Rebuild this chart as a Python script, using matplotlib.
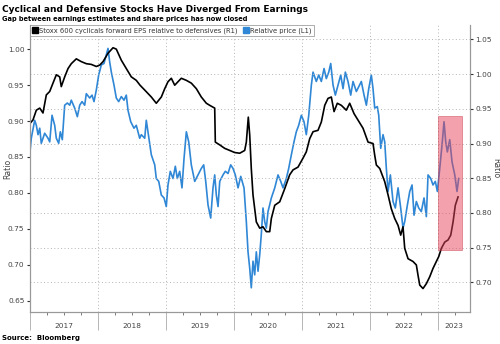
import matplotlib
matplotlib.use("Agg")
import matplotlib.pyplot as plt
from matplotlib.lines import Line2D
from matplotlib.patches import Rectangle
from matplotlib.ticker import FixedLocator, NullFormatter

# decimal-year dates and values
eps_t = [2017.00, 2017.044, 2017.093, 2017.143, 2017.191, 2017.240, 2017.290, 2017.338,
         2017.387, 2017.437, 2017.460, 2017.510, 2017.559, 2017.607, 2017.681, 2017.754,
         2017.828, 2017.901, 2017.975, 2018.025, 2018.074, 2018.147, 2018.221, 2018.269,
         2018.343, 2018.416, 2018.490, 2018.563, 2018.618, 2018.687, 2018.784, 2018.857,
         2018.931, 2018.981, 2019.029, 2019.078, 2019.128, 2019.176, 2019.225, 2019.299,
         2019.372, 2019.446, 2019.519, 2019.593, 2019.643, 2019.716, 2019.725, 2019.790,
         2019.863, 2019.937, 2020.010, 2020.084, 2020.157, 2020.181, 2020.210, 2020.231,
         2020.254, 2020.279, 2020.328, 2020.378, 2020.426, 2020.475, 2020.525, 2020.549,
         2020.599, 2020.672, 2020.746, 2020.819, 2020.868, 2020.941, 2021.015, 2021.063,
         2021.113, 2021.162, 2021.235, 2021.284, 2021.334, 2021.382, 2021.431, 2021.471,
         2021.519, 2021.578, 2021.651, 2021.701, 2021.765, 2021.853, 2021.897, 2021.971,
         2022.044, 2022.069, 2022.093, 2022.143, 2022.216, 2022.265, 2022.313, 2022.363,
         2022.412, 2022.451, 2022.485, 2022.510, 2022.559, 2022.632, 2022.681, 2022.706,
         2022.731, 2022.779, 2022.828, 2022.878, 2022.926, 2022.975, 2023.010, 2023.049,
         2023.099, 2023.147, 2023.187, 2023.221, 2023.254, 2023.294]
eps_rel = [0.929, 0.934, 0.948, 0.951, 0.944, 0.970, 0.975, 0.987,
           0.999, 0.996, 0.982, 0.996, 1.008, 1.015, 1.022, 1.018,
           1.015, 1.014, 1.011, 1.013, 1.018, 1.030, 1.038, 1.036,
           1.020, 1.008, 0.996, 0.991, 0.984, 0.977, 0.967, 0.958,
           0.967, 0.979, 0.989, 0.994, 0.984, 0.989, 0.994, 0.991,
           0.987, 0.979, 0.967, 0.958, 0.955, 0.951, 0.902, 0.898,
           0.893, 0.890, 0.887, 0.886, 0.890, 0.902, 0.938, 0.912,
           0.864, 0.826, 0.787, 0.778, 0.780, 0.773, 0.773, 0.792,
           0.811, 0.816, 0.835, 0.855, 0.862, 0.866, 0.879, 0.888,
           0.907, 0.917, 0.919, 0.931, 0.955, 0.965, 0.967, 0.946,
           0.958, 0.955, 0.948, 0.958, 0.943, 0.929, 0.922, 0.902,
           0.900, 0.883, 0.869, 0.864, 0.845, 0.826, 0.806, 0.792,
           0.782, 0.768, 0.780, 0.749, 0.734, 0.730, 0.725, 0.710,
           0.696, 0.691, 0.698, 0.708, 0.720, 0.730, 0.737, 0.749,
           0.758, 0.761, 0.768, 0.787, 0.811, 0.823]

price_t = [2017.00, 2017.019, 2017.069, 2017.093, 2017.118, 2017.143, 2017.166, 2017.216,
           2017.265, 2017.290, 2017.324, 2017.363, 2017.387, 2017.422, 2017.446, 2017.475,
           2017.510, 2017.549, 2017.584, 2017.607, 2017.657, 2017.696, 2017.731, 2017.765,
           2017.804, 2017.828, 2017.878, 2017.912, 2017.941, 2017.975, 2018.010, 2018.049,
           2018.088, 2018.122, 2018.147, 2018.172, 2018.196, 2018.235, 2018.269, 2018.304,
           2018.343, 2018.382, 2018.416, 2018.441, 2018.481, 2018.529, 2018.563, 2018.613,
           2018.637, 2018.687, 2018.710, 2018.735, 2018.784, 2018.834, 2018.857, 2018.893,
           2018.931, 2018.971, 2019.004, 2019.029, 2019.063, 2019.103, 2019.137, 2019.166,
           2019.201, 2019.235, 2019.265, 2019.299, 2019.334, 2019.372, 2019.422, 2019.471,
           2019.519, 2019.554, 2019.584, 2019.618, 2019.657, 2019.691, 2019.716, 2019.740,
           2019.765, 2019.790, 2019.838, 2019.872, 2019.912, 2019.951, 2019.985, 2020.019,
           2020.059, 2020.099, 2020.147, 2020.181, 2020.206, 2020.231, 2020.254, 2020.279,
           2020.304, 2020.328, 2020.353, 2020.378, 2020.401, 2020.426, 2020.451, 2020.475,
           2020.500, 2020.549, 2020.599, 2020.647, 2020.687, 2020.721, 2020.769, 2020.804,
           2020.843, 2020.882, 2020.916, 2020.951, 2020.990, 2021.029, 2021.063, 2021.099,
           2021.137, 2021.162, 2021.210, 2021.246, 2021.284, 2021.324, 2021.357, 2021.393,
           2021.422, 2021.456, 2021.490, 2021.529, 2021.569, 2021.603, 2021.637, 2021.676,
           2021.716, 2021.750, 2021.799, 2021.872, 2021.912, 2021.946, 2021.981, 2022.019,
           2022.044, 2022.069, 2022.107, 2022.128, 2022.157, 2022.191, 2022.216, 2022.240,
           2022.265, 2022.299, 2022.338, 2022.372, 2022.412, 2022.451, 2022.485, 2022.510,
           2022.549, 2022.584, 2022.618, 2022.647, 2022.681, 2022.716, 2022.754, 2022.794,
           2022.828, 2022.853, 2022.893, 2022.926, 2022.960, 2022.990, 2023.025, 2023.059,
           2023.088, 2023.113, 2023.137, 2023.172, 2023.206, 2023.246, 2023.279, 2023.304]
price_rel = [0.857, 0.876, 0.901, 0.894, 0.881, 0.890, 0.869, 0.883,
             0.876, 0.871, 0.908, 0.894, 0.876, 0.869, 0.885, 0.874,
             0.922, 0.925, 0.922, 0.929, 0.918, 0.906, 0.922, 0.927,
             0.922, 0.938, 0.932, 0.936, 0.927, 0.943, 0.964, 0.978,
             0.980, 0.992, 1.001, 0.982, 0.968, 0.950, 0.932, 0.927,
             0.934, 0.929, 0.936, 0.915, 0.899, 0.890, 0.894, 0.876,
             0.881, 0.876, 0.901, 0.885, 0.853, 0.839, 0.820, 0.816,
             0.797, 0.793, 0.781, 0.811, 0.830, 0.820, 0.837, 0.820,
             0.830, 0.807, 0.848, 0.885, 0.871, 0.839, 0.816, 0.825,
             0.834, 0.839, 0.816, 0.783, 0.765, 0.807, 0.825, 0.797,
             0.781, 0.816, 0.825, 0.830, 0.827, 0.839, 0.834, 0.825,
             0.807, 0.823, 0.807, 0.760, 0.718, 0.695, 0.668, 0.705,
             0.686, 0.718, 0.691, 0.714, 0.742, 0.779, 0.760, 0.751,
             0.774, 0.793, 0.807, 0.825, 0.816, 0.807, 0.820, 0.834,
             0.853, 0.871, 0.885, 0.894, 0.908, 0.899, 0.881, 0.908,
             0.950, 0.968, 0.955, 0.964, 0.955, 0.973, 0.959, 0.968,
             0.980, 0.950, 0.936, 0.950, 0.964, 0.945, 0.968, 0.955,
             0.936, 0.955, 0.941, 0.955, 0.936, 0.922, 0.945, 0.964,
             0.945, 0.918, 0.920, 0.908, 0.862, 0.881, 0.871, 0.834,
             0.802, 0.825, 0.788, 0.779, 0.807, 0.779, 0.751, 0.760,
             0.783, 0.802, 0.811, 0.769, 0.788, 0.779, 0.774, 0.793,
             0.767, 0.825, 0.820, 0.811, 0.816, 0.802, 0.834, 0.867,
             0.899, 0.871, 0.857, 0.874, 0.843, 0.825, 0.802, 0.820]

years = [2017, 2018, 2019, 2020, 2021, 2022, 2023]
left_ticks = [0.65, 0.70, 0.75, 0.80, 0.85, 0.90, 0.95, 1.00]
right_ticks = [0.70, 0.75, 0.80, 0.85, 0.90, 0.95, 1.00, 1.05]

# highlighted window: start of 2023, right-axis ratio range
box_x = (2023.0, 2023.35)
box_y = (0.746, 0.940)

plt.rcParams["font.family"] = "DejaVu Sans"
txt = "#444444"
spine = "#999999"

fig = plt.figure(figsize=(5, 3.44), dpi=100)
ax = fig.add_axes([0.06, 0.093, 0.88, 0.834])
ax2 = ax.twinx()

ax.plot(price_t, price_rel, color="#2f87d6", lw=1.2)
ax2.plot(eps_t, eps_rel, color="black", lw=1.2)

ax.set_xlim(2017.0, 2023.47)
ax.set_ylim(0.6343, 1.0334)
ax2.set_ylim(0.6572, 1.0706)

ax.set_yticks(left_ticks)
ax.set_yticklabels([f"{v:.2f}" for v in left_ticks])
ax2.set_yticks(right_ticks)
ax2.set_yticklabels([f"{v:.2f}" for v in right_ticks])

# year separators (long ticks) + quarterly minor ticks
ax.xaxis.set_major_locator(FixedLocator(years))
ax.xaxis.set_major_formatter(NullFormatter())
quarters = [y + q for y in years for q in (0.25, 0.5, 0.75) if y + q < 2023.47]
ax.xaxis.set_minor_locator(FixedLocator(quarters))
ax.tick_params(axis="x", which="major", length=13, width=0.6, color="#aaaaaa")
ax.tick_params(axis="x", which="minor", length=2, width=0.6, color="#666666")
ax.tick_params(axis="y", length=2.5, width=0.8, color="#333333", labelsize=5.3,
               labelcolor=txt, pad=1.5)
ax2.tick_params(axis="y", length=2.5, width=0.8, color="#333333", labelsize=5.3,
                labelcolor=txt, pad=1.5)

for i, y in enumerate(years):
    end = min(y + 1, 2023.47)
    ax.text((y + end) / 2, -0.05, str(y), transform=ax.get_xaxis_transform(),
            ha="center", va="center", fontsize=5.3, color=txt)

ax.grid(axis="x", which="major", color="#b5b5b5", ls=(0, (1, 2.5)), lw=0.7)
ax2.grid(axis="y", color="#b5b5b5", ls=(0, (1, 2.5)), lw=0.7)
ax.set_axisbelow(True)

for a in (ax, ax2):
    a.spines["top"].set_visible(False)
    for s in ("left", "right", "bottom"):
        a.spines[s].set_color(spine)
        a.spines[s].set_linewidth(0.8)

ax.set_ylabel("Ratio", fontsize=5.6, color=txt, va="center")
ax.yaxis.set_label_coords(-0.05, 0.5)
ax2.set_ylabel("Ratio", fontsize=5.6, color=txt, rotation=270, va="center")
ax2.yaxis.set_label_coords(1.058, 0.5)

ax2.add_patch(Rectangle((box_x[0], box_y[0]), box_x[1] - box_x[0], box_y[1] - box_y[0],
                        facecolor="#e8455a", alpha=0.5, edgecolor="#c0303f", lw=0.6,
                        zorder=5))

handles = [Line2D([], [], marker="s", color="black", ls="none", markersize=4),
           Line2D([], [], marker="s", color="#2f87d6", ls="none", markersize=4)]
leg = ax2.legend(handles, ["Stoxx 600 cyclicals forward EPS relative to defensives (R1)",
                           "Relative price (L1)"],
                 loc="upper left", bbox_to_anchor=(0.0, 1.0), ncol=2, fontsize=4.9,
                 frameon=True, fancybox=False, edgecolor="#888888", handletextpad=0.2,
                 columnspacing=0.8, borderpad=0.35, handlelength=0.8, borderaxespad=0.0)
leg.get_frame().set_linewidth(0.6)
for t in leg.get_texts():
    t.set_color("#333333")

fig.text(0.004, 0.985, "Cyclical and Defensive Stocks Have Diverged From Earnings",
         fontsize=6.5, fontweight="bold", color="black", va="top", ha="left")
fig.text(0.004, 0.953, "Gap between earnings estimates and share prices has now closed",
         fontsize=4.8, fontweight="bold", color="black", va="top", ha="left")
fig.text(0.004, 0.008, "Source:  Bloomberg", fontsize=5.0, fontweight="bold",
         color="black", va="bottom", ha="left")

fig.savefig("out.png", dpi=100)
